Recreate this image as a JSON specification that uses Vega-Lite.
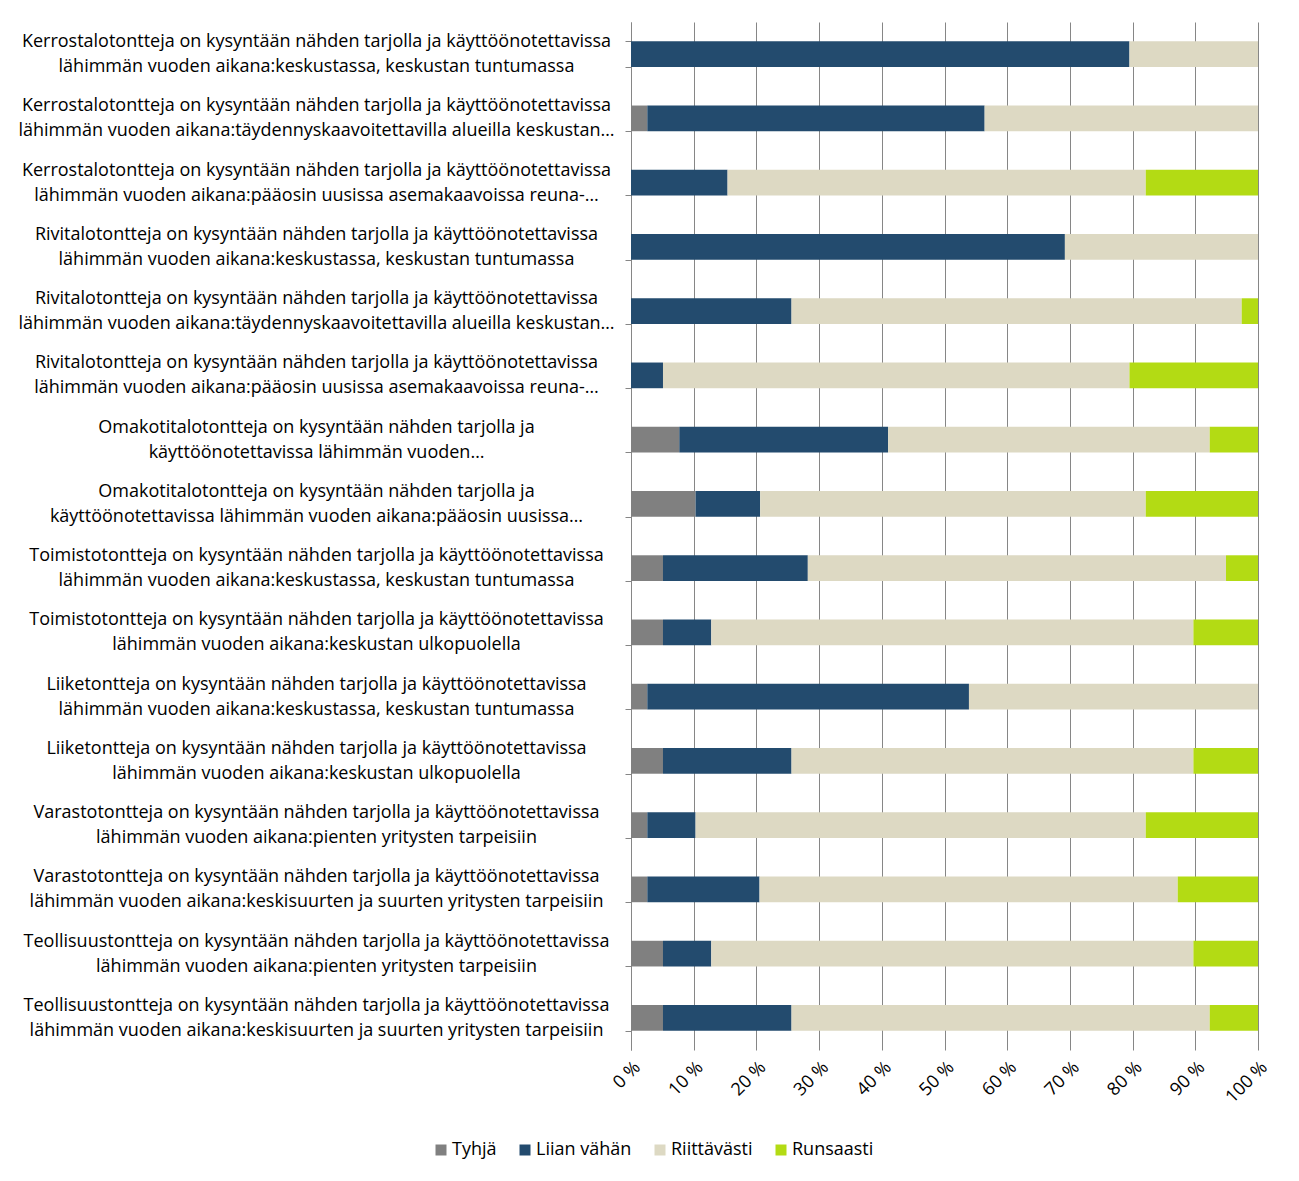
{
  "$schema": "https://vega.github.io/schema/vega-lite/v6.json",
  "autosize": {"type": "none"},
  "padding": {"left": 631, "top": 22, "right": 41, "bottom": 131},
  "width": 627,
  "height": 1028,
  "background": "white",
  "config": {
    "view": {"stroke": null},
    "font": "Open Sans",
    "axis": {"labelFont": "Open Sans", "labelFontSize": 18, "labelColor": "#000000"},
    "legend": {"labelFont": "Open Sans", "labelFontSize": 18, "labelColor": "#000000"}
  },
  "datasets": {
    "d": [
      {"q": "Kerrostalotontteja on kysyntään nähden tarjolla ja käyttöönotettavissa|lähimmän vuoden aikana:keskustassa, keskustan tuntumassa", "luokka": "Tyhjä", "osuus": 0},
      {"q": "Kerrostalotontteja on kysyntään nähden tarjolla ja käyttöönotettavissa|lähimmän vuoden aikana:keskustassa, keskustan tuntumassa", "luokka": "Liian vähän", "osuus": 79.5},
      {"q": "Kerrostalotontteja on kysyntään nähden tarjolla ja käyttöönotettavissa|lähimmän vuoden aikana:keskustassa, keskustan tuntumassa", "luokka": "Riittävästi", "osuus": 20.5},
      {"q": "Kerrostalotontteja on kysyntään nähden tarjolla ja käyttöönotettavissa|lähimmän vuoden aikana:keskustassa, keskustan tuntumassa", "luokka": "Runsaasti", "osuus": 0},

      {"q": "Kerrostalotontteja on kysyntään nähden tarjolla ja käyttöönotettavissa|lähimmän vuoden aikana:täydennyskaavoitettavilla alueilla keskustan…", "luokka": "Tyhjä", "osuus": 2.6},
      {"q": "Kerrostalotontteja on kysyntään nähden tarjolla ja käyttöönotettavissa|lähimmän vuoden aikana:täydennyskaavoitettavilla alueilla keskustan…", "luokka": "Liian vähän", "osuus": 53.8},
      {"q": "Kerrostalotontteja on kysyntään nähden tarjolla ja käyttöönotettavissa|lähimmän vuoden aikana:täydennyskaavoitettavilla alueilla keskustan…", "luokka": "Riittävästi", "osuus": 43.6},
      {"q": "Kerrostalotontteja on kysyntään nähden tarjolla ja käyttöönotettavissa|lähimmän vuoden aikana:täydennyskaavoitettavilla alueilla keskustan…", "luokka": "Runsaasti", "osuus": 0},

      {"q": "Kerrostalotontteja on kysyntään nähden tarjolla ja käyttöönotettavissa|lähimmän vuoden aikana:pääosin uusissa asemakaavoissa reuna-…", "luokka": "Tyhjä", "osuus": 0},
      {"q": "Kerrostalotontteja on kysyntään nähden tarjolla ja käyttöönotettavissa|lähimmän vuoden aikana:pääosin uusissa asemakaavoissa reuna-…", "luokka": "Liian vähän", "osuus": 15.4},
      {"q": "Kerrostalotontteja on kysyntään nähden tarjolla ja käyttöönotettavissa|lähimmän vuoden aikana:pääosin uusissa asemakaavoissa reuna-…", "luokka": "Riittävästi", "osuus": 66.7},
      {"q": "Kerrostalotontteja on kysyntään nähden tarjolla ja käyttöönotettavissa|lähimmän vuoden aikana:pääosin uusissa asemakaavoissa reuna-…", "luokka": "Runsaasti", "osuus": 17.9},

      {"q": "Rivitalotontteja on kysyntään nähden tarjolla ja käyttöönotettavissa|lähimmän vuoden aikana:keskustassa, keskustan tuntumassa", "luokka": "Tyhjä", "osuus": 0},
      {"q": "Rivitalotontteja on kysyntään nähden tarjolla ja käyttöönotettavissa|lähimmän vuoden aikana:keskustassa, keskustan tuntumassa", "luokka": "Liian vähän", "osuus": 69.2},
      {"q": "Rivitalotontteja on kysyntään nähden tarjolla ja käyttöönotettavissa|lähimmän vuoden aikana:keskustassa, keskustan tuntumassa", "luokka": "Riittävästi", "osuus": 30.8},
      {"q": "Rivitalotontteja on kysyntään nähden tarjolla ja käyttöönotettavissa|lähimmän vuoden aikana:keskustassa, keskustan tuntumassa", "luokka": "Runsaasti", "osuus": 0},

      {"q": "Rivitalotontteja on kysyntään nähden tarjolla ja käyttöönotettavissa|lähimmän vuoden aikana:täydennyskaavoitettavilla alueilla keskustan…", "luokka": "Tyhjä", "osuus": 0},
      {"q": "Rivitalotontteja on kysyntään nähden tarjolla ja käyttöönotettavissa|lähimmän vuoden aikana:täydennyskaavoitettavilla alueilla keskustan…", "luokka": "Liian vähän", "osuus": 25.6},
      {"q": "Rivitalotontteja on kysyntään nähden tarjolla ja käyttöönotettavissa|lähimmän vuoden aikana:täydennyskaavoitettavilla alueilla keskustan…", "luokka": "Riittävästi", "osuus": 71.8},
      {"q": "Rivitalotontteja on kysyntään nähden tarjolla ja käyttöönotettavissa|lähimmän vuoden aikana:täydennyskaavoitettavilla alueilla keskustan…", "luokka": "Runsaasti", "osuus": 2.6},

      {"q": "Rivitalotontteja on kysyntään nähden tarjolla ja käyttöönotettavissa|lähimmän vuoden aikana:pääosin uusissa asemakaavoissa reuna-…", "luokka": "Tyhjä", "osuus": 0},
      {"q": "Rivitalotontteja on kysyntään nähden tarjolla ja käyttöönotettavissa|lähimmän vuoden aikana:pääosin uusissa asemakaavoissa reuna-…", "luokka": "Liian vähän", "osuus": 5.1},
      {"q": "Rivitalotontteja on kysyntään nähden tarjolla ja käyttöönotettavissa|lähimmän vuoden aikana:pääosin uusissa asemakaavoissa reuna-…", "luokka": "Riittävästi", "osuus": 74.4},
      {"q": "Rivitalotontteja on kysyntään nähden tarjolla ja käyttöönotettavissa|lähimmän vuoden aikana:pääosin uusissa asemakaavoissa reuna-…", "luokka": "Runsaasti", "osuus": 20.5},

      {"q": "Omakotitalotontteja on kysyntään nähden tarjolla ja|käyttöönotettavissa lähimmän vuoden…", "luokka": "Tyhjä", "osuus": 7.7},
      {"q": "Omakotitalotontteja on kysyntään nähden tarjolla ja|käyttöönotettavissa lähimmän vuoden…", "luokka": "Liian vähän", "osuus": 33.3},
      {"q": "Omakotitalotontteja on kysyntään nähden tarjolla ja|käyttöönotettavissa lähimmän vuoden…", "luokka": "Riittävästi", "osuus": 51.3},
      {"q": "Omakotitalotontteja on kysyntään nähden tarjolla ja|käyttöönotettavissa lähimmän vuoden…", "luokka": "Runsaasti", "osuus": 7.7},

      {"q": "Omakotitalotontteja on kysyntään nähden tarjolla ja|käyttöönotettavissa lähimmän vuoden aikana:pääosin uusissa…", "luokka": "Tyhjä", "osuus": 10.3},
      {"q": "Omakotitalotontteja on kysyntään nähden tarjolla ja|käyttöönotettavissa lähimmän vuoden aikana:pääosin uusissa…", "luokka": "Liian vähän", "osuus": 10.3},
      {"q": "Omakotitalotontteja on kysyntään nähden tarjolla ja|käyttöönotettavissa lähimmän vuoden aikana:pääosin uusissa…", "luokka": "Riittävästi", "osuus": 61.5},
      {"q": "Omakotitalotontteja on kysyntään nähden tarjolla ja|käyttöönotettavissa lähimmän vuoden aikana:pääosin uusissa…", "luokka": "Runsaasti", "osuus": 17.9},

      {"q": "Toimistotontteja on kysyntään nähden tarjolla ja käyttöönotettavissa|lähimmän vuoden aikana:keskustassa, keskustan tuntumassa", "luokka": "Tyhjä", "osuus": 5.1},
      {"q": "Toimistotontteja on kysyntään nähden tarjolla ja käyttöönotettavissa|lähimmän vuoden aikana:keskustassa, keskustan tuntumassa", "luokka": "Liian vähän", "osuus": 23.1},
      {"q": "Toimistotontteja on kysyntään nähden tarjolla ja käyttöönotettavissa|lähimmän vuoden aikana:keskustassa, keskustan tuntumassa", "luokka": "Riittävästi", "osuus": 66.7},
      {"q": "Toimistotontteja on kysyntään nähden tarjolla ja käyttöönotettavissa|lähimmän vuoden aikana:keskustassa, keskustan tuntumassa", "luokka": "Runsaasti", "osuus": 5.1},

      {"q": "Toimistotontteja on kysyntään nähden tarjolla ja käyttöönotettavissa|lähimmän vuoden aikana:keskustan ulkopuolella", "luokka": "Tyhjä", "osuus": 5.1},
      {"q": "Toimistotontteja on kysyntään nähden tarjolla ja käyttöönotettavissa|lähimmän vuoden aikana:keskustan ulkopuolella", "luokka": "Liian vähän", "osuus": 7.7},
      {"q": "Toimistotontteja on kysyntään nähden tarjolla ja käyttöönotettavissa|lähimmän vuoden aikana:keskustan ulkopuolella", "luokka": "Riittävästi", "osuus": 76.9},
      {"q": "Toimistotontteja on kysyntään nähden tarjolla ja käyttöönotettavissa|lähimmän vuoden aikana:keskustan ulkopuolella", "luokka": "Runsaasti", "osuus": 10.3},

      {"q": "Liiketontteja on kysyntään nähden tarjolla ja käyttöönotettavissa|lähimmän vuoden aikana:keskustassa, keskustan tuntumassa", "luokka": "Tyhjä", "osuus": 2.6},
      {"q": "Liiketontteja on kysyntään nähden tarjolla ja käyttöönotettavissa|lähimmän vuoden aikana:keskustassa, keskustan tuntumassa", "luokka": "Liian vähän", "osuus": 51.3},
      {"q": "Liiketontteja on kysyntään nähden tarjolla ja käyttöönotettavissa|lähimmän vuoden aikana:keskustassa, keskustan tuntumassa", "luokka": "Riittävästi", "osuus": 46.1},
      {"q": "Liiketontteja on kysyntään nähden tarjolla ja käyttöönotettavissa|lähimmän vuoden aikana:keskustassa, keskustan tuntumassa", "luokka": "Runsaasti", "osuus": 0},

      {"q": "Liiketontteja on kysyntään nähden tarjolla ja käyttöönotettavissa|lähimmän vuoden aikana:keskustan ulkopuolella", "luokka": "Tyhjä", "osuus": 5.1},
      {"q": "Liiketontteja on kysyntään nähden tarjolla ja käyttöönotettavissa|lähimmän vuoden aikana:keskustan ulkopuolella", "luokka": "Liian vähän", "osuus": 20.5},
      {"q": "Liiketontteja on kysyntään nähden tarjolla ja käyttöönotettavissa|lähimmän vuoden aikana:keskustan ulkopuolella", "luokka": "Riittävästi", "osuus": 64.1},
      {"q": "Liiketontteja on kysyntään nähden tarjolla ja käyttöönotettavissa|lähimmän vuoden aikana:keskustan ulkopuolella", "luokka": "Runsaasti", "osuus": 10.3},

      {"q": "Varastotontteja on kysyntään nähden tarjolla ja käyttöönotettavissa|lähimmän vuoden aikana:pienten yritysten tarpeisiin", "luokka": "Tyhjä", "osuus": 2.6},
      {"q": "Varastotontteja on kysyntään nähden tarjolla ja käyttöönotettavissa|lähimmän vuoden aikana:pienten yritysten tarpeisiin", "luokka": "Liian vähän", "osuus": 7.7},
      {"q": "Varastotontteja on kysyntään nähden tarjolla ja käyttöönotettavissa|lähimmän vuoden aikana:pienten yritysten tarpeisiin", "luokka": "Riittävästi", "osuus": 71.8},
      {"q": "Varastotontteja on kysyntään nähden tarjolla ja käyttöönotettavissa|lähimmän vuoden aikana:pienten yritysten tarpeisiin", "luokka": "Runsaasti", "osuus": 17.9},

      {"q": "Varastotontteja on kysyntään nähden tarjolla ja käyttöönotettavissa|lähimmän vuoden aikana:keskisuurten ja suurten yritysten tarpeisiin", "luokka": "Tyhjä", "osuus": 2.6},
      {"q": "Varastotontteja on kysyntään nähden tarjolla ja käyttöönotettavissa|lähimmän vuoden aikana:keskisuurten ja suurten yritysten tarpeisiin", "luokka": "Liian vähän", "osuus": 17.9},
      {"q": "Varastotontteja on kysyntään nähden tarjolla ja käyttöönotettavissa|lähimmän vuoden aikana:keskisuurten ja suurten yritysten tarpeisiin", "luokka": "Riittävästi", "osuus": 66.7},
      {"q": "Varastotontteja on kysyntään nähden tarjolla ja käyttöönotettavissa|lähimmän vuoden aikana:keskisuurten ja suurten yritysten tarpeisiin", "luokka": "Runsaasti", "osuus": 12.8},

      {"q": "Teollisuustontteja on kysyntään nähden tarjolla ja käyttöönotettavissa|lähimmän vuoden aikana:pienten yritysten tarpeisiin", "luokka": "Tyhjä", "osuus": 5.1},
      {"q": "Teollisuustontteja on kysyntään nähden tarjolla ja käyttöönotettavissa|lähimmän vuoden aikana:pienten yritysten tarpeisiin", "luokka": "Liian vähän", "osuus": 7.7},
      {"q": "Teollisuustontteja on kysyntään nähden tarjolla ja käyttöönotettavissa|lähimmän vuoden aikana:pienten yritysten tarpeisiin", "luokka": "Riittävästi", "osuus": 76.9},
      {"q": "Teollisuustontteja on kysyntään nähden tarjolla ja käyttöönotettavissa|lähimmän vuoden aikana:pienten yritysten tarpeisiin", "luokka": "Runsaasti", "osuus": 10.3},

      {"q": "Teollisuustontteja on kysyntään nähden tarjolla ja käyttöönotettavissa|lähimmän vuoden aikana:keskisuurten ja suurten yritysten tarpeisiin", "luokka": "Tyhjä", "osuus": 5.1},
      {"q": "Teollisuustontteja on kysyntään nähden tarjolla ja käyttöönotettavissa|lähimmän vuoden aikana:keskisuurten ja suurten yritysten tarpeisiin", "luokka": "Liian vähän", "osuus": 20.5},
      {"q": "Teollisuustontteja on kysyntään nähden tarjolla ja käyttöönotettavissa|lähimmän vuoden aikana:keskisuurten ja suurten yritysten tarpeisiin", "luokka": "Riittävästi", "osuus": 66.7},
      {"q": "Teollisuustontteja on kysyntään nähden tarjolla ja käyttöönotettavissa|lähimmän vuoden aikana:keskisuurten ja suurten yritysten tarpeisiin", "luokka": "Runsaasti", "osuus": 7.7}
    ]
  },
  "data": {"name": "d"},
  "transform": [
    {"calculate": "indexof(['Tyhjä','Liian vähän','Riittävästi','Runsaasti'], datum.luokka)", "as": "jarjestys"}
  ],
  "mark": {"type": "bar"},
  "encoding": {
    "y": {
      "field": "q",
      "type": "nominal",
      "sort": null,
      "scale": {"paddingInner": 0.6, "paddingOuter": 0.3},
      "axis": {
        "title": null,
        "labelExpr": "split(datum.label, '|')",
        "labelAlign": "center",
        "labelBaseline": "middle",
        "labelLineHeight": 25,
        "labelOffset": -12.5,
        "labelPadding": 309,
        "labelLimit": 700,
        "tickBand": "extent",
        "tickSize": 6,
        "tickColor": "#868686",
        "domainColor": "#868686",
        "grid": false
      }
    },
    "x": {
      "field": "osuus",
      "type": "quantitative",
      "stack": "normalize",
      "scale": {"domain": [0, 1], "nice": false},
      "axis": {
        "title": null,
        "values": [0, 0.1, 0.2, 0.3, 0.4, 0.5, 0.6, 0.7, 0.8, 0.9, 1],
        "labelExpr": "round(datum.value * 100) + ' %'",
        "labelAngle": -45,
        "labelPadding": 8,
        "domain": false,
        "ticks": false,
        "grid": true,
        "gridColor": "#868686",
        "gridWidth": 1
      }
    },
    "color": {
      "field": "luokka",
      "type": "nominal",
      "scale": {
        "domain": ["Tyhjä", "Liian vähän", "Riittävästi", "Runsaasti"],
        "range": ["#808080", "#234B6E", "#DDD9C3", "#B3DB14"]
      },
      "legend": {
        "title": null,
        "orient": "none",
        "direction": "horizontal",
        "legendX": -199,
        "legendY": 1119,
        "symbolType": "square",
        "symbolSize": 121,
        "symbolStrokeWidth": 0,
        "columnPadding": 19,
        "labelOffset": 2
      }
    },
    "order": {"field": "jarjestys", "type": "quantitative"}
  }
}
